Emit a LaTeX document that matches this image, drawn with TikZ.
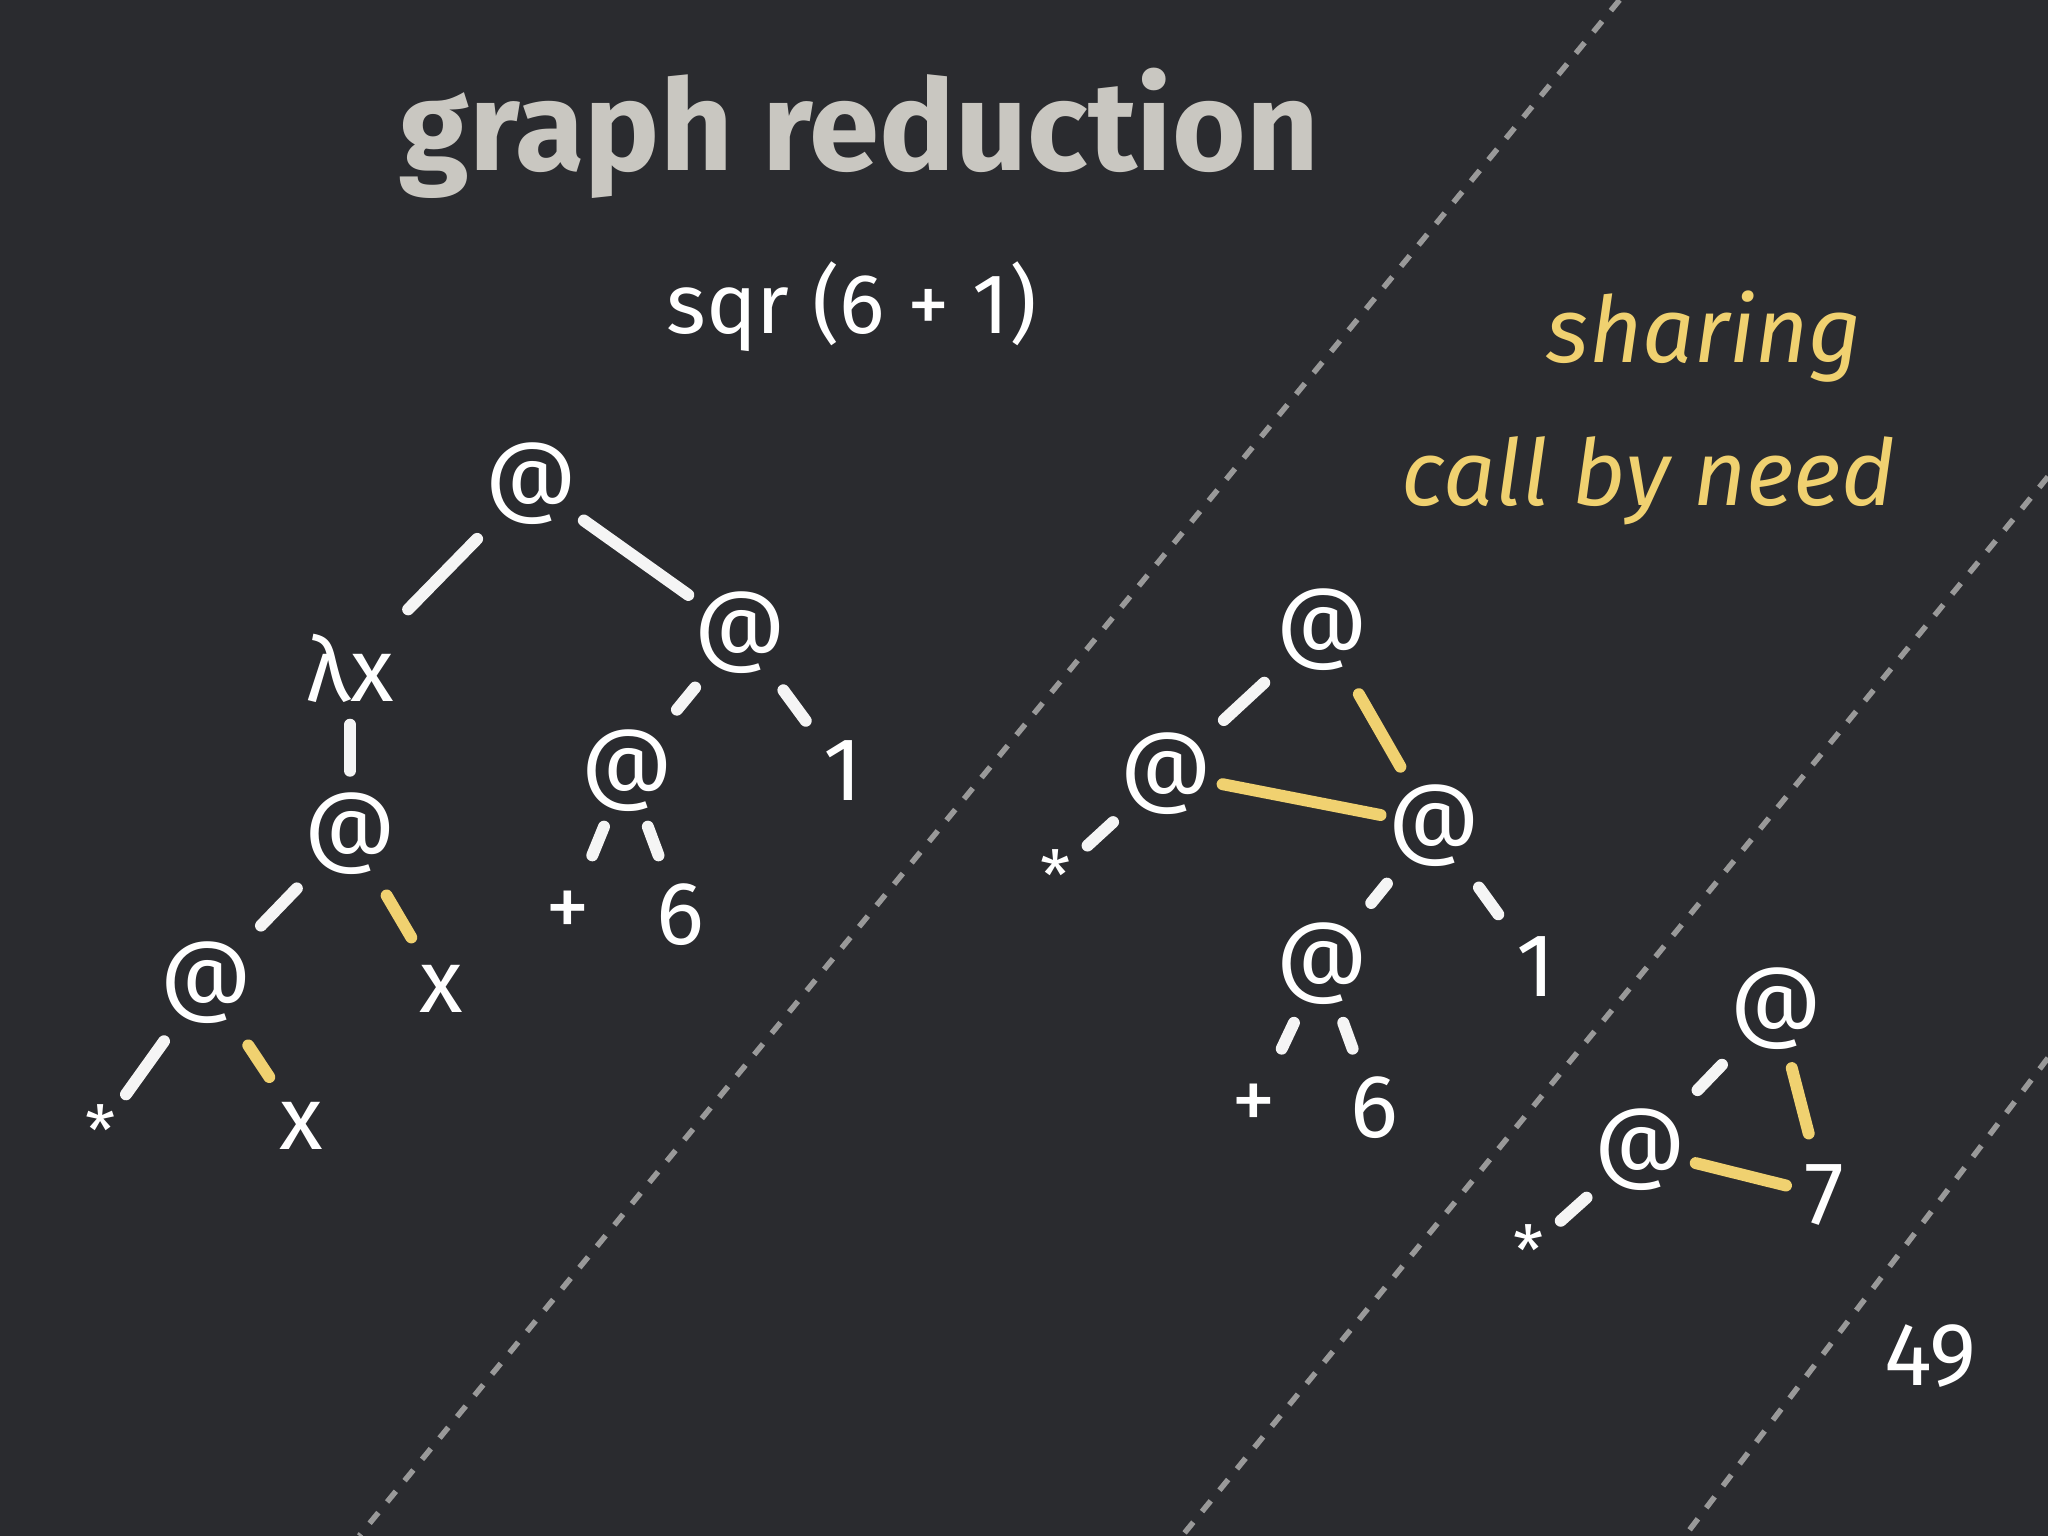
\documentclass[tikz,border=0pt]{standalone}
\usepackage{fontspec}
\setmainfont{Fira Sans}
\usetikzlibrary{calc}
\definecolor{bg}{HTML}{2A2B2F}
\definecolor{chalky}{HTML}{F0D170}
\definecolor{ttl}{HTML}{C9C7C1}
\tikzset{
 t/.style={text=white,font=\fontsize{19.5}{24}\selectfont,inner sep=0pt},
 ast/.style={text=white,font=\fontsize{15}{18}\selectfont,inner sep=0pt},
 w/.style={draw=white!92!gray,line width=2.6pt,line cap=round},
 yl/.style={draw=chalky,line width=2.6pt,line cap=round},
 sep/.style={draw=gray!80,line width=1.2pt,dash pattern=on 3pt off 3pt}
}
\newcommand{\seg}[5]{\draw[#1] ($(#2)!#4!(#3)$) -- ($(#2)!#5!(#3)$);}
\begin{document}
\begin{tikzpicture}[x=0.01cm,y=-0.01cm]
\fill[bg] (0,0) rectangle (1568,1176);
\useasboundingbox (0,0) rectangle (1568,1176);
\draw[sep] (1240,0) -- (275,1176);
\draw[sep] (1568,365) -- (905,1176);
\draw[sep] (1568,810) -- (1290,1176);
\node[text=ttl,font=\fontsize{27.5}{32}\selectfont\bfseries,inner sep=0pt] (title) at (658,102) {graph reduction};
\node[t,font=\fontsize{18.5}{22}\selectfont] (expr) at (652,235) {sqr (6 + 1)};
\node[text=chalky,font=\fontsize{20}{24}\selectfont\itshape,inner sep=0pt] (sh) at (1305,258) {sharing};
\node[text=chalky,font=\fontsize{20}{24}\selectfont\itshape,inner sep=0pt] (cbn) at (1262,368) {call by need};
\node[t] (pg) at (1478,1038) {49};
% left tree
\node[t] (a1) at (407,370) {@};
\node[t] (lx) at (268,512) {λx};
\node[t] (a2) at (567,484) {@};
\node[t] (a3) at (268,638) {@};
\node[t] (a4) at (480,590) {@};
\node[t] (o1) at (645,590) {1};
\node[t] (a5) at (158,752) {@};
\node[t] (x1) at (338,757) {x};
\node[t] (p1) at (435,700) {+};
\node[t] (s1) at (521,700) {6};
\node[ast] (st1) at (77,865) {*};
\node[t] (x2) at (231,862) {x};
\seg{w}{a1}{lx}{.30}{.68}
\seg{w}{a1}{a2}{.25}{.75}
\seg{w}{a2}{a4}{.40}{.56}
\seg{w}{a2}{o1}{.42}{.64}
\seg{w}{lx}{a3}{.34}{.62}
\seg{w}{a3}{a5}{.37}{.62}
\seg{yl}{a3}{x1}{.40}{.67}
\seg{w}{a4}{p1}{.39}{.59}
\seg{w}{a4}{s1}{.39}{.59}
\seg{w}{a5}{st1}{.40}{.76}
\seg{yl}{a5}{x2}{.44}{.66}
% middle tree
\node[t] (b1) at (1012,482) {@};
\node[t] (b2) at (893,592) {@};
\node[t] (b3) at (1098,632) {@};
\node[ast] (st2) at (808,670) {*};
\node[t] (b4) at (1012,738) {@};
\node[t] (o2) at (1176,740) {1};
\node[t] (p2) at (960,848) {+};
\node[t] (s2) at (1052,848) {6};
\seg{w}{b1}{b2}{.37}{.63}
\seg{yl}{b1}{b3}{.33}{.70}
\seg{yl}{b2}{b3}{.21}{.80}
\seg{w}{b2}{st2}{.48}{.71}
\seg{w}{b3}{b4}{.42}{.56}
\seg{w}{b3}{o2}{.44}{.63}
\seg{w}{b4}{p2}{.41}{.59}
\seg{w}{b4}{s2}{.41}{.59}
% right tree
\node[t] (c1) at (1360,772) {@};
\node[t] (c2) at (1256,880) {@};
\node[t] (sv) at (1397,915) {7};
\node[ast] (st3) at (1170,957) {*};
\seg{w}{c1}{c2}{.40}{.58}
\seg{yl}{c1}{sv}{.32}{.67}
\seg{yl}{c2}{sv}{.30}{.79}
\seg{w}{c2}{st3}{.48}{.71}
\end{tikzpicture}
\end{document}
